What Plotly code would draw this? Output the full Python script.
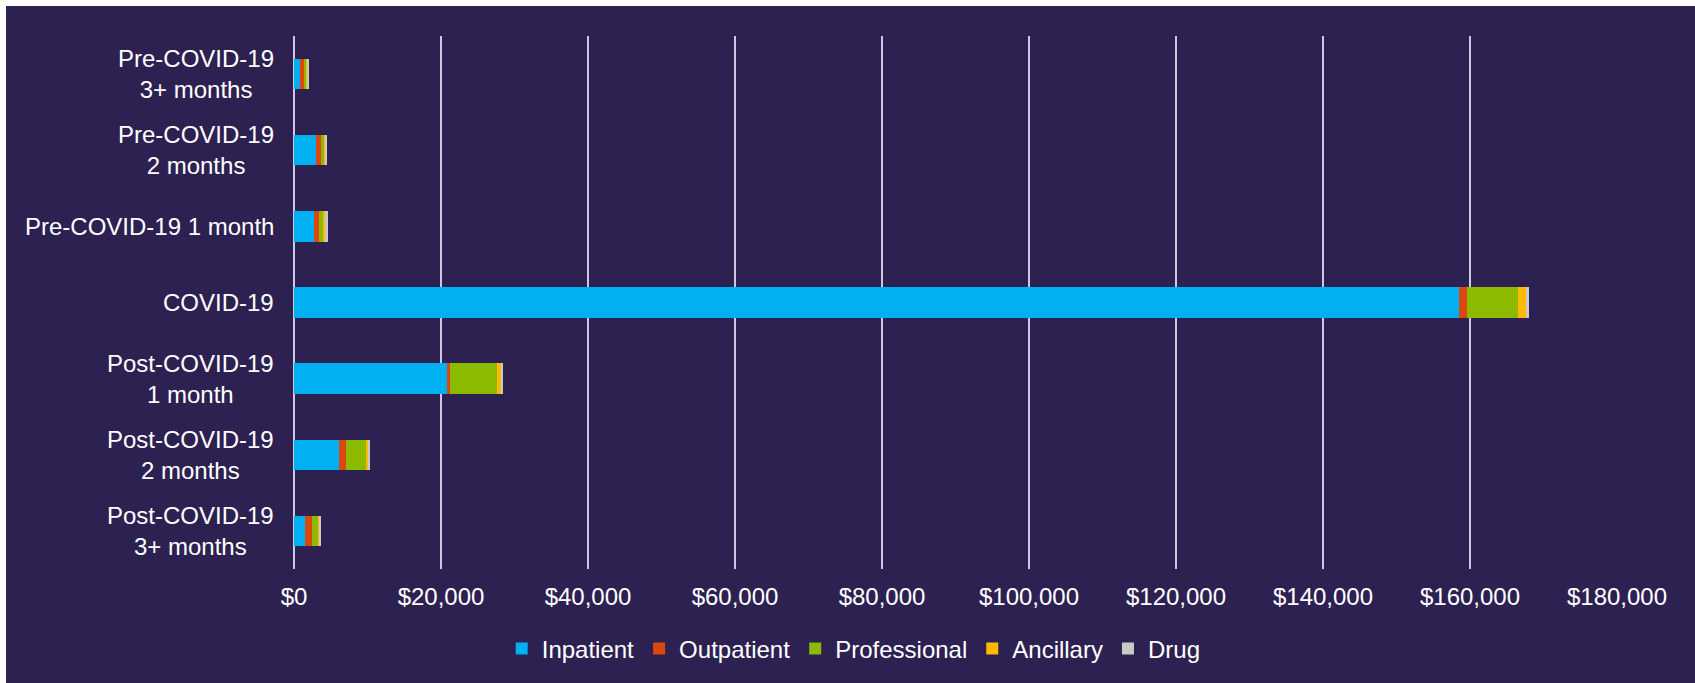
import plotly.graph_objects as go

# ---- data ----
categories = [
    "Pre-COVID-19<br>3+ months",
    "Pre-COVID-19<br>2 months",
    "Pre-COVID-19 1 month",
    "COVID-19",
    "Post-COVID-19<br>1 month",
    "Post-COVID-19<br>2 months",
    "Post-COVID-19<br>3+ months",
]
inpatient = [800, 2990, 2720, 158500, 20820, 6120, 1450]
outpatient = [550, 640, 640, 1130, 410, 1000, 1000]
professional = [400, 540, 720, 6890, 6440, 2680, 820]
ancillary = [80, 60, 100, 1180, 500, 270, 140]
drug = [250, 300, 400, 270, 230, 270, 270]

series_names = ["Inpatient", "Outpatient", "Professional", "Ancillary", "Drug"]
series_values = [inpatient, outpatient, professional, ancillary, drug]
series_colors = ["#00B0F0", "#DC4611", "#8BBA00", "#FFB900", "#C9C9C9"]

x_ticks = [0, 20000, 40000, 60000, 80000, 100000, 120000, 140000, 160000, 180000]
x_tick_labels = ["${:,}".format(v) for v in x_ticks]

BG = "#2D2152"
GRID = "#CEC7E4"
FONT = "Liberation Sans, Arial, sans-serif"

fig = go.Figure()
for name, vals, col in zip(series_names, series_values, series_colors):
    fig.add_trace(go.Bar(
        y=categories, x=vals, name=name, orientation="h",
        marker=dict(color=col, line=dict(width=0)),
        hovertemplate="%{y}: $%{x:,}<extra>" + name + "</extra>",
    ))

# category labels: right-anchored blocks with centered lines
annotations = []
for cat in categories:
    annotations.append(dict(
        x=0, xref="paper", y=cat, yref="y", text=cat, showarrow=False,
        xanchor="right", yanchor="middle", align="center", xshift=-18,
        font=dict(family=FONT, size=24, color="white"),
    ))

PLOT_W, PLOT_H = 1695 - 294 - 78, 683 - 36 - 114

fig.update_layout(
    width=1695, height=683,
    margin=dict(l=294, r=78, t=36, b=114),
    paper_bgcolor=BG, plot_bgcolor=BG,
    barmode="stack", bargap=0.6,
    font=dict(family=FONT, size=24, color="white"),
    xaxis=dict(
        range=[0, 180000], tickvals=x_ticks, ticktext=x_tick_labels,
        showgrid=True, gridcolor=GRID, gridwidth=2,
        zeroline=True, zerolinecolor=GRID, zerolinewidth=2,
        showline=False, ticks="", ticklabelstandoff=11,
        tickfont=dict(family=FONT, size=24, color="white"),
    ),
    yaxis=dict(
        categoryorder="array", categoryarray=categories,
        autorange="reversed", showticklabels=False, showgrid=False,
        zeroline=False, showline=False, ticks="",
    ),
    legend=dict(
        orientation="h", x=0.157, xanchor="left", y=-0.150, yanchor="middle",
        font=dict(family=FONT, size=24, color="white"),
        bgcolor="rgba(0,0,0,0)", itemwidth=30, traceorder="normal",
    ),
    annotations=annotations,
    shapes=[
        # thin white frame strips at the top and left edges of the image
        dict(type="rect", xref="paper", yref="paper", layer="below",
             x0=-1, x1=2, y0=1 + (36 - 6) / PLOT_H, y1=2,
             fillcolor="white", line=dict(width=0)),
        dict(type="rect", xref="paper", yref="paper", layer="below",
             x0=-1, x1=-(294 - 6) / PLOT_W, y0=-1, y1=2,
             fillcolor="white", line=dict(width=0)),
    ],
    showlegend=True,
)

fig.write_html(
    "out.html",
    config={"displayModeBar": False},
    post_script="document.body.style.margin='0';document.body.style.overflow='hidden';",
)
